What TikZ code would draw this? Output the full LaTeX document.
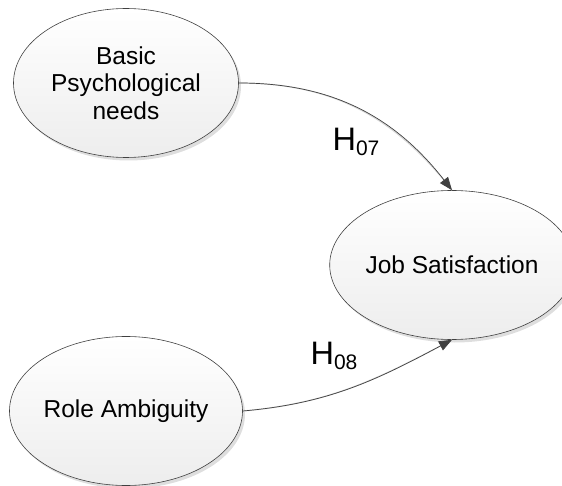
\documentclass[tikz,border=0pt]{standalone}
\usepackage{fontspec}
\setmainfont{Liberation Sans}
\usetikzlibrary{shapes.geometric,arrows.meta,shadows}

\definecolor{linegray}{HTML}{404040}
\definecolor{fillbottom}{HTML}{EDEDED}
\definecolor{shadowgray}{HTML}{D6D6D6}

% hypothesis label: large H with a lowered number
\newcommand{\hyplabel}[1]{\fontsize{32.5}{34}\selectfont H\raisebox{-5pt}{\fontsize{21}{22}\selectfont #1}}

\tikzset{
  construct/.style={
    ellipse, draw=linegray, line width=0.6pt,
    top color=white, bottom color=fillbottom,
    minimum width=225pt, minimum height=149pt, inner sep=0pt,
    align=center, font=\fontsize{24.5}{27.5}\selectfont,
    drop shadow={shadow xshift=2.5pt, shadow yshift=-3pt, fill=shadowgray, opacity=0.8}
  },
  path/.style={draw=linegray, line width=0.7pt,
    -{Triangle[length=13pt,width=10pt]}, fill=none},
  pathshadow/.style={draw=shadowgray, line width=1.2pt, fill=none},
  hyp/.style={inner sep=0pt, anchor=center}
}

\begin{document}
\begin{tikzpicture}[x=1pt,y=-1pt]
  \useasboundingbox (0,0) rectangle (562,486);

  \node[construct] (bpn) at (126,83) {Basic\\Psychological\\needs};
  \node[construct] (ra)  at (126,411) {Role Ambiguity};
  \node[construct, minimum width=214pt] (js) at (452,265) {Job Satisfaction};

  % faint shadows under the connectors
  \begin{scope}[yshift=-2pt, xshift=0.5pt]
    \draw[pathshadow] (bpn.east) to[out=0,in=128] (js.north);
    \draw[pathshadow] (ra.east) to[out=5,in=208] (js.south);
  \end{scope}

  \draw[path] (bpn.east) to[out=0,in=128] (js.north);
  \draw[path] (ra.east) to[out=5,in=208] (js.south);

  \node[hyp] (h07) at (356,142) {\hyplabel{07}};
  \node[hyp] (h08) at (334,356) {\hyplabel{08}};
\end{tikzpicture}
\end{document}
